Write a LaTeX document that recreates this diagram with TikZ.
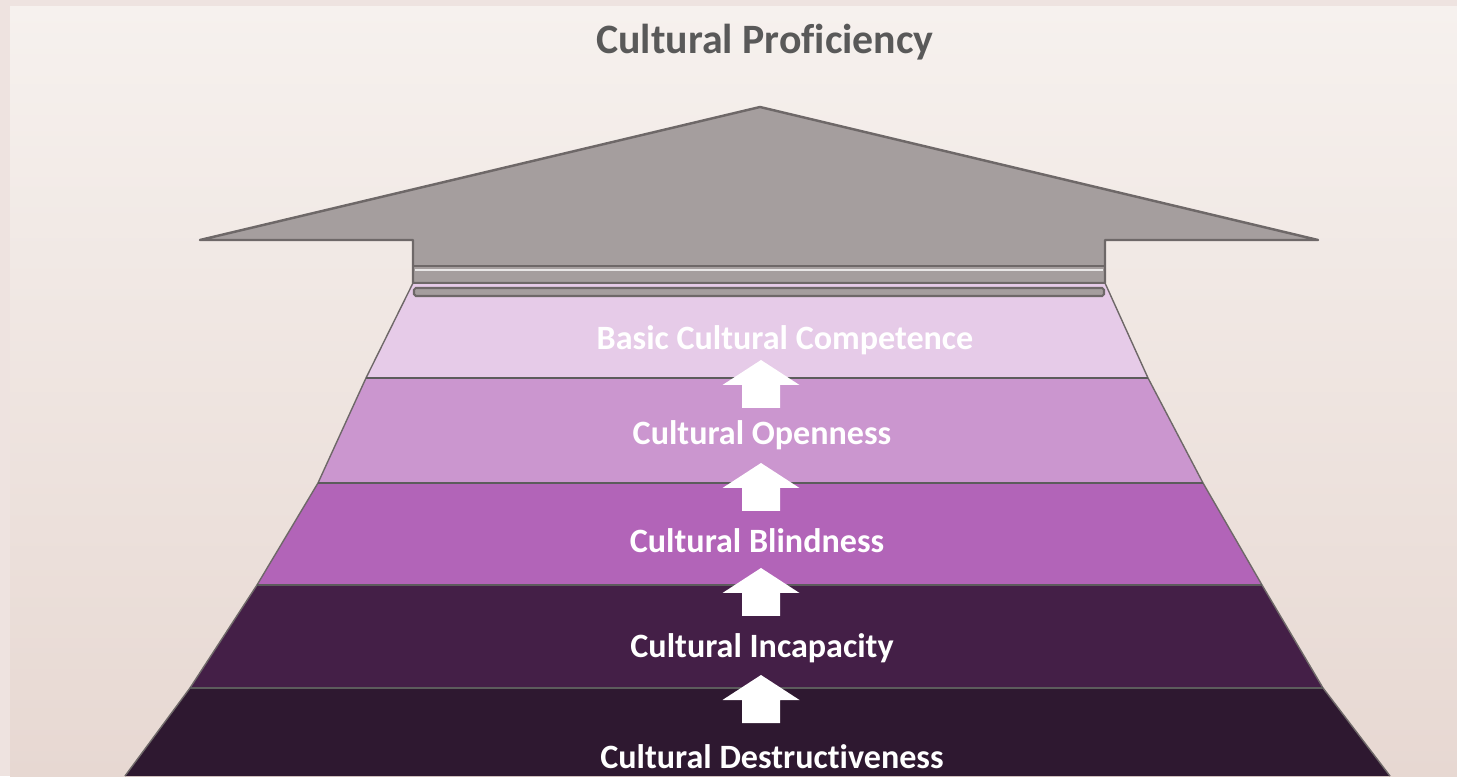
\documentclass[tikz,border=0pt]{standalone}
\usepackage{fontspec}
\setmainfont{Carlito}[Ligatures={NoCommon}]
\usetikzlibrary{positioning}
\definecolor{frameback}{HTML}{EEE3E0}
\definecolor{paneltop}{HTML}{F6F1EE}
\definecolor{panelbot}{HTML}{E7D8D2}
\definecolor{titlegray}{HTML}{595959}
\definecolor{arrowgray}{HTML}{A59E9E}
\definecolor{arrowedge}{HTML}{6E6868}
\definecolor{levelA}{HTML}{E6CBE8}
\definecolor{levelB}{HTML}{CB96CF}
\definecolor{levelC}{HTML}{B264B8}
\definecolor{levelD}{HTML}{441F47}
\definecolor{levelE}{HTML}{2E1830}
\definecolor{sepline}{HTML}{5C5C5C}
\tikzset{
  leveltext/.style={text=white, font=\bfseries\fontsize{9.7}{11}\selectfont, inner sep=0pt},
  uparrow/.style={fill=white, draw=none},
  separator/.style={draw=sepline, line width=0.6pt}
}
\begin{document}
\begin{tikzpicture}[scale=1]

		% Fundo
		\fill[frameback] (0,0) rectangle (14.57,7.76);
		\shade[top color=paneltop, bottom color=panelbot] (0.10,0) rectangle (14.57,7.69);
		\useasboundingbox (0,0) rectangle (14.57,7.76);

		% Titulo
		\node[text=titlegray, font=\bfseries\fontsize{11.9}{14}\selectfont] (title) at (7.65,7.34) {Cultural Proficiency};

		% Seta cinza grande
		\draw[fill=arrowgray, draw=arrowedge, line width=0.7pt, line join=round]
		(7.60,6.69) -- (13.18,5.36) -- (11.05,5.36) -- (11.05,4.93)
		-- (4.13,4.93) -- (4.13,5.36) -- (2.00,5.36) -- cycle;
		\draw[arrowedge, line width=0.8pt] (4.13,5.10) -- (11.05,5.10);
		\draw[white!75!arrowgray, line width=0.5pt] (4.15,5.06) -- (11.03,5.06);

		% Niveis (de cima para baixo)
		\fill[levelA] (4.13,4.93) -- (11.05,4.93) -- (11.48,3.98) -- (3.66,3.98) -- cycle;
		\fill[levelB] (3.66,3.98) -- (11.48,3.98) -- (12.03,2.93) -- (3.18,2.93) -- cycle;
		\fill[levelC] (3.18,2.93) -- (12.03,2.93) -- (12.62,1.91) -- (2.57,1.91) -- cycle;
		\fill[levelD] (2.57,1.91) -- (12.62,1.91) -- (13.23,0.88) -- (1.90,0.88) -- cycle;
		\fill[levelE] (1.90,0.88) -- (13.23,0.88) -- (13.90,0) -- (1.25,0) -- cycle;
		\draw[arrowedge, line width=0.4pt] (4.13,4.93) -- (3.66,3.98) -- (3.18,2.93) -- (2.57,1.91) -- (1.90,0.88) -- (1.25,0);
		\draw[arrowedge, line width=0.4pt] (11.05,4.93) -- (11.48,3.98) -- (12.03,2.93) -- (12.62,1.91) -- (13.23,0.88) -- (13.90,0);
		\draw[arrowedge, line width=0.7pt] (4.13,4.93) -- (11.05,4.93);

		% Barra cinza fina
		\draw[fill=arrowgray, draw=arrowedge, line width=0.6pt, rounded corners=0.5pt] (4.14,4.80) rectangle (11.04,4.88);

		% Linhas separadoras
		\draw[separator] (3.66,3.98) -- (11.48,3.98);
		\draw[separator] (3.18,2.93) -- (12.03,2.93);
		\draw[separator] (2.57,1.91) -- (12.62,1.91);
		\draw[separator] (1.90,0.88) -- (13.23,0.88);

		% Setas brancas
		\fill[uparrow, shift={(7.61,4.16)}] (0,0) -- (0.385,-0.25) -- (0.19,-0.25) -- (0.19,-0.48) -- (-0.19,-0.48) -- (-0.19,-0.25) -- (-0.385,-0.25) -- cycle;
		\fill[uparrow, shift={(7.61,3.13)}] (0,0) -- (0.385,-0.25) -- (0.19,-0.25) -- (0.19,-0.48) -- (-0.19,-0.48) -- (-0.19,-0.25) -- (-0.385,-0.25) -- cycle;
		\fill[uparrow, shift={(7.61,2.08)}] (0,0) -- (0.385,-0.25) -- (0.19,-0.25) -- (0.19,-0.48) -- (-0.19,-0.48) -- (-0.19,-0.25) -- (-0.385,-0.25) -- cycle;
		\fill[uparrow, shift={(7.61,1.01)}] (0,0) -- (0.385,-0.25) -- (0.19,-0.25) -- (0.19,-0.48) -- (-0.19,-0.48) -- (-0.19,-0.25) -- (-0.385,-0.25) -- cycle;

		% Rotulos dos niveis
		\node[leveltext] (competence) at (7.85,4.36) {Basic Cultural Competence};
		\node[leveltext] (openness) at (7.62,3.41) {Cultural Openness};
		\node[leveltext] (blindness) at (7.57,2.35) {Cultural Blindness};
		\node[leveltext] (incapacity) at (7.62,1.28) {Cultural Incapacity};
		\node[leveltext] (destructive) at (7.72,0.19) {Cultural Destructiveness};

\end{tikzpicture}
\end{document}
